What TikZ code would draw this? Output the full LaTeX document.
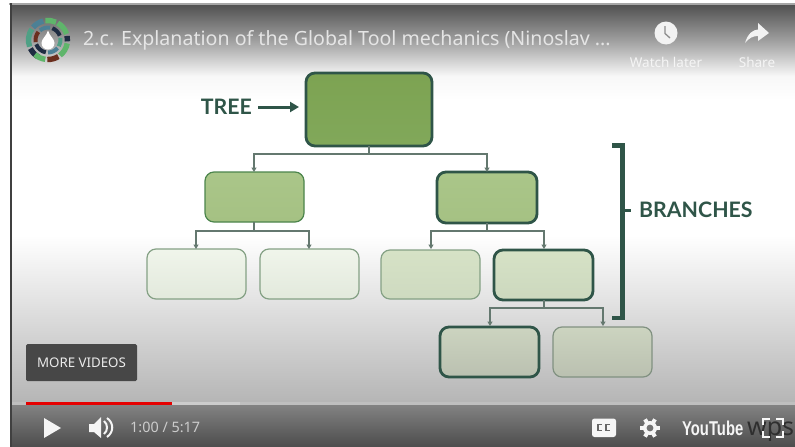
\documentclass[tikz,border=0pt]{standalone}
\usepackage{fontspec}
\setmainfont{Liberation Sans}
\newfontfamily\latofont{Lato}
\newfontfamily\notofont{Noto Sans}
\usetikzlibrary{arrows.meta,calc}
\definecolor{deep}{HTML}{2F5548}
\definecolor{wire}{HTML}{64786F}
\definecolor{ringG}{HTML}{5FB56B}
\definecolor{ringN}{HTML}{1E2C42}
\definecolor{ringT}{HTML}{4C8095}
\definecolor{ringB}{HTML}{6B2F1E}
\definecolor{ringM}{HTML}{4FA085}
\tikzset{
  x=1pt,y=-1pt,
  box/.style={rounded corners=9pt,line width=1.2pt,draw=#1},
  bold/.style={rounded corners=9pt,line width=2.8pt,draw=deep},
  conn/.style={draw=wire,line width=1.1pt},
  tip/.style={-{Triangle[length=4.5pt,width=5pt]}},
  ui/.style={text=#1,inner sep=0pt,anchor=center},
  lbl/.style={text=deep,inner sep=0pt,font=\latofont\bfseries\fontsize{21.3}{21}\selectfont}
}
\newcommand{\ringseg}[5]{\draw[line width=#4pt,draw=#5] (#1:#3pt) arc[start angle=#1,end angle=#2,radius=#3pt];}
\begin{document}
\begin{tikzpicture}
\useasboundingbox (0,0) rectangle (795,447);
\fill[white] (0,0) rectangle (795,447);
% backdrop gradient
\fill[black!35] (9,3) rectangle (795,5);
\shade[top color=black!68,bottom color=black!38] (12,5) rectangle (795,40);
\shade[top color=black!38,bottom color=black!3] (12,40) rectangle (795,76);
\shade[top color=black!3,bottom color=white] (12,76) rectangle (795,100);
\fill[white] (12,100) rectangle (795,235);
\shade[top color=white,bottom color=black!11] (12,235) rectangle (795,300);
\shade[top color=black!11,bottom color=black!29] (12,300) rectangle (795,403);
\shade[top color=black!48,bottom color=black!70] (12,403) rectangle (795,447);
\fill[black!75] (10,3) rectangle (12,447);
% tree boxes
\shade[bold,top color={rgb,255:red,125;green,163;blue,82},bottom color={rgb,255:red,129;green,168;blue,90}] (306,73) rectangle (432,146);
\shade[box=black!45!green!40!gray,top color={rgb,255:red,170;green,198;blue,137},bottom color={rgb,255:red,165;green,193;blue,131}] (205,172) rectangle (304,222);
\shade[bold,top color={rgb,255:red,170;green,198;blue,137},bottom color={rgb,255:red,165;green,193;blue,131}] (437,172) rectangle (537,223);
\shade[box=black!30!green!20!gray!80,top color={rgb,255:red,240;green,245;blue,235},bottom color={rgb,255:red,226;green,233;blue,220}] (147,249) rectangle (246,299);
\shade[box=black!30!green!20!gray!80,top color={rgb,255:red,240;green,245;blue,235},bottom color={rgb,255:red,226;green,233;blue,220}] (260,249) rectangle (359,299);
\shade[box=black!30!green!20!gray!80,top color={rgb,255:red,214;green,226;blue,198},bottom color={rgb,255:red,206;green,218;blue,192}] (381,250) rectangle (480,299);
\shade[bold,top color={rgb,255:red,214;green,226;blue,198},bottom color={rgb,255:red,204;green,216;blue,190}] (494,250) rectangle (593,300);
\shade[bold,top color={rgb,255:red,204;green,212;blue,192},bottom color={rgb,255:red,186;green,192;blue,176}] (440,327) rectangle (539,377);
\shade[box=black!30!green!10!gray!90,top color={rgb,255:red,204;green,212;blue,192},bottom color={rgb,255:red,186;green,192;blue,176}] (553,327) rectangle (652,377);
% connector anchors
\coordinate (a0) at (369,146); \coordinate (a1) at (254,172); \coordinate (a2) at (487,172);
\coordinate (b0) at (254,222); \coordinate (b1) at (196,249); \coordinate (b2) at (309,249);
\coordinate (c0) at (487,223); \coordinate (c1) at (431,249); \coordinate (c2) at (544,249);
\coordinate (d0) at (544,300); \coordinate (d1) at (490,326); \coordinate (d2) at (603,326);
\draw[conn] (a0) -- (369,154);
\draw[conn,tip] (369,154) -| (a1);
\draw[conn,tip] (369,154) -| (a2);
\draw[conn] (b0) -- (254,231);
\draw[conn,tip] (254,231) -| (b1);
\draw[conn,tip] (254,231) -| (b2);
\draw[conn] (c0) -- (487,231);
\draw[conn,tip] (487,231) -| (c1);
\draw[conn,tip] (487,231) -| (c2);
\draw[conn] (d0) -- (544,308);
\draw[conn,tip] (544,308) -| (d1);
\draw[conn,tip] (544,308) -| (d2);
% labels
\node[lbl,anchor=east] (treeL) at (252,107) {TREE};
\coordinate (treeT) at (299,107);
\draw[deep,line width=3pt,-{Triangle[length=9pt,width=10pt,inset=0pt,sep=0pt]}] (258,107) -- (treeT);
\draw[deep,line width=4.4pt,line cap=butt] (612,145.5) -- (622.5,145.5) -- (622.5,318) -- (612,318);
\draw[deep,line width=3pt] (624,210) -- (631,210);
\node[lbl,anchor=west] (branches) at (639,210) {BRANCHES};
% header
\begin{scope}[shift={(48,40)},x=1pt,y=1pt]
  \ringseg{18}{60}{19.5}{5.4}{ringG}
  \ringseg{66}{98}{19.5}{5.4}{ringG}
  \ringseg{104}{140}{19.5}{5.4}{ringT}
  \ringseg{146}{200}{19.5}{5.4}{ringM}
  \ringseg{206}{240}{19.5}{5.4}{ringN}
  \ringseg{228}{262}{19.5}{5.4}{ringG}
  \ringseg{268}{302}{19.5}{5.4}{ringB}
  \ringseg{308}{350}{19.5}{5.4}{ringG}
  \ringseg{-4}{12}{19.5}{5.4}{ringN}
  \ringseg{20}{70}{12.5}{4}{ringN}
  \ringseg{80}{130}{12.5}{4}{ringT}
  \ringseg{140}{190}{12.5}{4}{ringB}
  \ringseg{200}{260}{12.5}{4}{ringN}
  \ringseg{270}{320}{12.5}{4}{ringT}
  \ringseg{330}{370}{12.5}{4}{ringM}
  \fill[white] (0,9.5) .. controls (-1.5,4) and (-6.5,1) .. (-6.5,-3) arc[start angle=180,end angle=360,radius=6.5] .. controls (6.5,1) and (1.5,4) .. (0,9.5) -- cycle;
\end{scope}
\node[ui=black!10,anchor=west,font=\notofont\fontsize{19.6}{19}\selectfont] (title) at (83,40) {2.c. Explanation of the Global Tool mechanics (Ninoslav ...};
\fill[black!5] (666,33) circle[radius=11.5];
\draw[black!45,line width=1.3pt] (665,26) -- (665,33.5) -- (670,38);
\node[ui=black!4,font=\notofont\fontsize{13.5}{14}\selectfont] (watch) at (666,62) {Watch later};
\fill[black!5] (745,43) .. controls (748,33) and (753,30) .. (758,29.5) -- (758,23) -- (769,33) -- (758,41) -- (758,36) .. controls (753,36) and (749,38) .. (745,43) -- cycle;
\node[ui=black!4,font=\notofont\fontsize{13.5}{14}\selectfont] (share) at (757,62) {Share};
% more videos
\node[fill=black!72,rounded corners=1.5pt,minimum width=111pt,minimum height=37pt,inner sep=0pt,text=black!8,font=\notofont\fontsize{13.3}{13}\selectfont] (more) at (81.5,362.5) {MORE VIDEOS};
% progress
\fill[black!25] (12,402) rectangle (795,405);
\fill[black!20] (172,402) rectangle (240,405);
\fill[red!90!black] (26,401.5) rectangle (172,405);
% controls
\fill[black!4] (44,418) -- (61,428) -- (44,438) -- cycle;
\fill[black!4] (89,424) -- (94,424) -- (101,417) -- (101,438) -- (94,432) -- (89,432) -- cycle;
\draw[black!4,line width=2pt] (104,421) .. controls (108,424) and (108,431) .. (104,434);
\draw[black!4,line width=2pt] (107,418) .. controls (114,423) and (114,432) .. (107,437);
\node[ui=black!20,anchor=west,font=\notofont\fontsize{14.4}{14}\selectfont] (time) at (130,427.5) {1:00 / 5:17};
\fill[black!4,rounded corners=2.5pt] (592,418.5) rectangle (616,437);
\draw[black!60,line width=1.6pt] (602,424.5) -- (598,424.5) -- (598,430.5) -- (602,430.5) (610,424.5) -- (606,424.5) -- (606,430.5) -- (610,430.5);
\fill[black!4] (650,428) circle[radius=7];
\begin{scope}[shift={(650,428)},x=1pt,y=1pt]
\foreach \a in {0,60,120,180,240,300}{\draw[black!4,line width=4pt] (\a:6pt) -- (\a:10pt);}
\end{scope}
\fill[black!55] (650,428) circle[radius=3.4];
\node[ui=black!4,anchor=west,font=\bfseries\fontsize{20}{20}\selectfont,xscale=.74] (yt) at (682,428) {YouTube};
\node[text=black!82,inner sep=0pt,anchor=base west,font=\notofont\fontsize{25}{25}\selectfont] (wps) at (747,435) {wps};
\draw[black!3,line width=2pt] (763,425) -- (763,419) -- (770,419) (776,419) -- (783,419) -- (783,425) (783,431) -- (783,437) -- (776,437) (770,437) -- (763,437) -- (763,431);
\end{tikzpicture}
\end{document}
